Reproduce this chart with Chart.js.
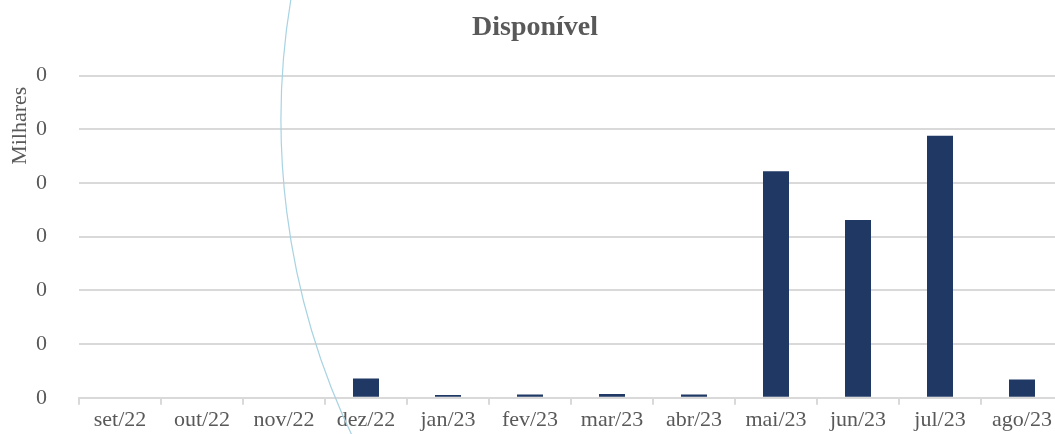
<!DOCTYPE html>
<html><head><meta charset="utf-8">
<script src="https://cdn.jsdelivr.net/npm/chart.js@4/dist/chart.umd.min.js"></script>
<style>html,body{margin:0;padding:0;background:#fff;overflow:hidden;width:1055px;height:434px}
#wrap{width:1065px;height:434px;position:relative;overflow:hidden}</style></head>
<body><div id="wrap"><canvas id="c" width="1065" height="443"></canvas></div>
<script>
const categories = ['set/22','out/22','nov/22','dez/22','jan/23','fev/23','mar/23','abr/23','mai/23','jun/23','jul/23','ago/23'];
const disponivel = [0,0,0,36,5,6,7,6,422,331,488,34];
const yTicks = [0,100,200,300,400,500,600];
const FONT = "'Liberation Serif','DejaVu Serif',serif";

const arcPlugin = {
  id:'arc',
  afterDraw(chart){
    const ctx = chart.ctx;
    ctx.save();
    ctx.strokeStyle = '#a8d3e3';
    ctx.lineWidth = 1.2;
    ctx.beginPath();
    ctx.arc(1018, 120, 737, Math.PI-0.5, Math.PI+0.25);
    ctx.stroke();
    ctx.restore();
  }
};

new Chart(document.getElementById('c'), {
  type:'bar',
  data:{labels:categories, datasets:[{label:'Disponível', data:disponivel, backgroundColor:'#203864', borderWidth:0, barPercentage:0.317, categoryPercentage:1}]},
  options:{
    responsive:false, animation:false,
    layout:{padding:{left:7,right:2,top:0,bottom:0}},
    plugins:{
      legend:{display:false},
      tooltip:{enabled:false},
      title:{display:true, text:'Disponível', color:'#595959', font:{family:FONT, size:28, weight:'bold'}, padding:{top:11,bottom:31}}
    },
    scales:{
      x:{
        grid:{display:true, offset:true, drawOnChartArea:false, drawTicks:true, tickLength:7, color:'#d9d9d9', lineWidth:2},
        border:{display:true, color:'#d9d9d9', width:2},
        ticks:{color:'#595959', font:{family:FONT, size:22}, maxRotation:0, autoSkip:false, padding:2}
      },
      y:{
        min:0, max:600,
        afterFit(axis){ axis.width = 72; },
        afterBuildTicks(axis){ axis.ticks = yTicks.map(v=>({value:v})); },
        grid:{color:'#d9d9d9', lineWidth:2, drawTicks:false},
        border:{display:false},
        ticks:{color:'#595959', font:{family:FONT, size:22}, padding:32, callback:v=>String(Math.trunc(v/1000))},
        title:{display:true, text:'Milhares  ', align:'end', color:'#595959', font:{family:FONT, size:22}, padding:{top:0,bottom:3}}
      }
    }
  },
  plugins:[arcPlugin]
});
</script></body></html>
